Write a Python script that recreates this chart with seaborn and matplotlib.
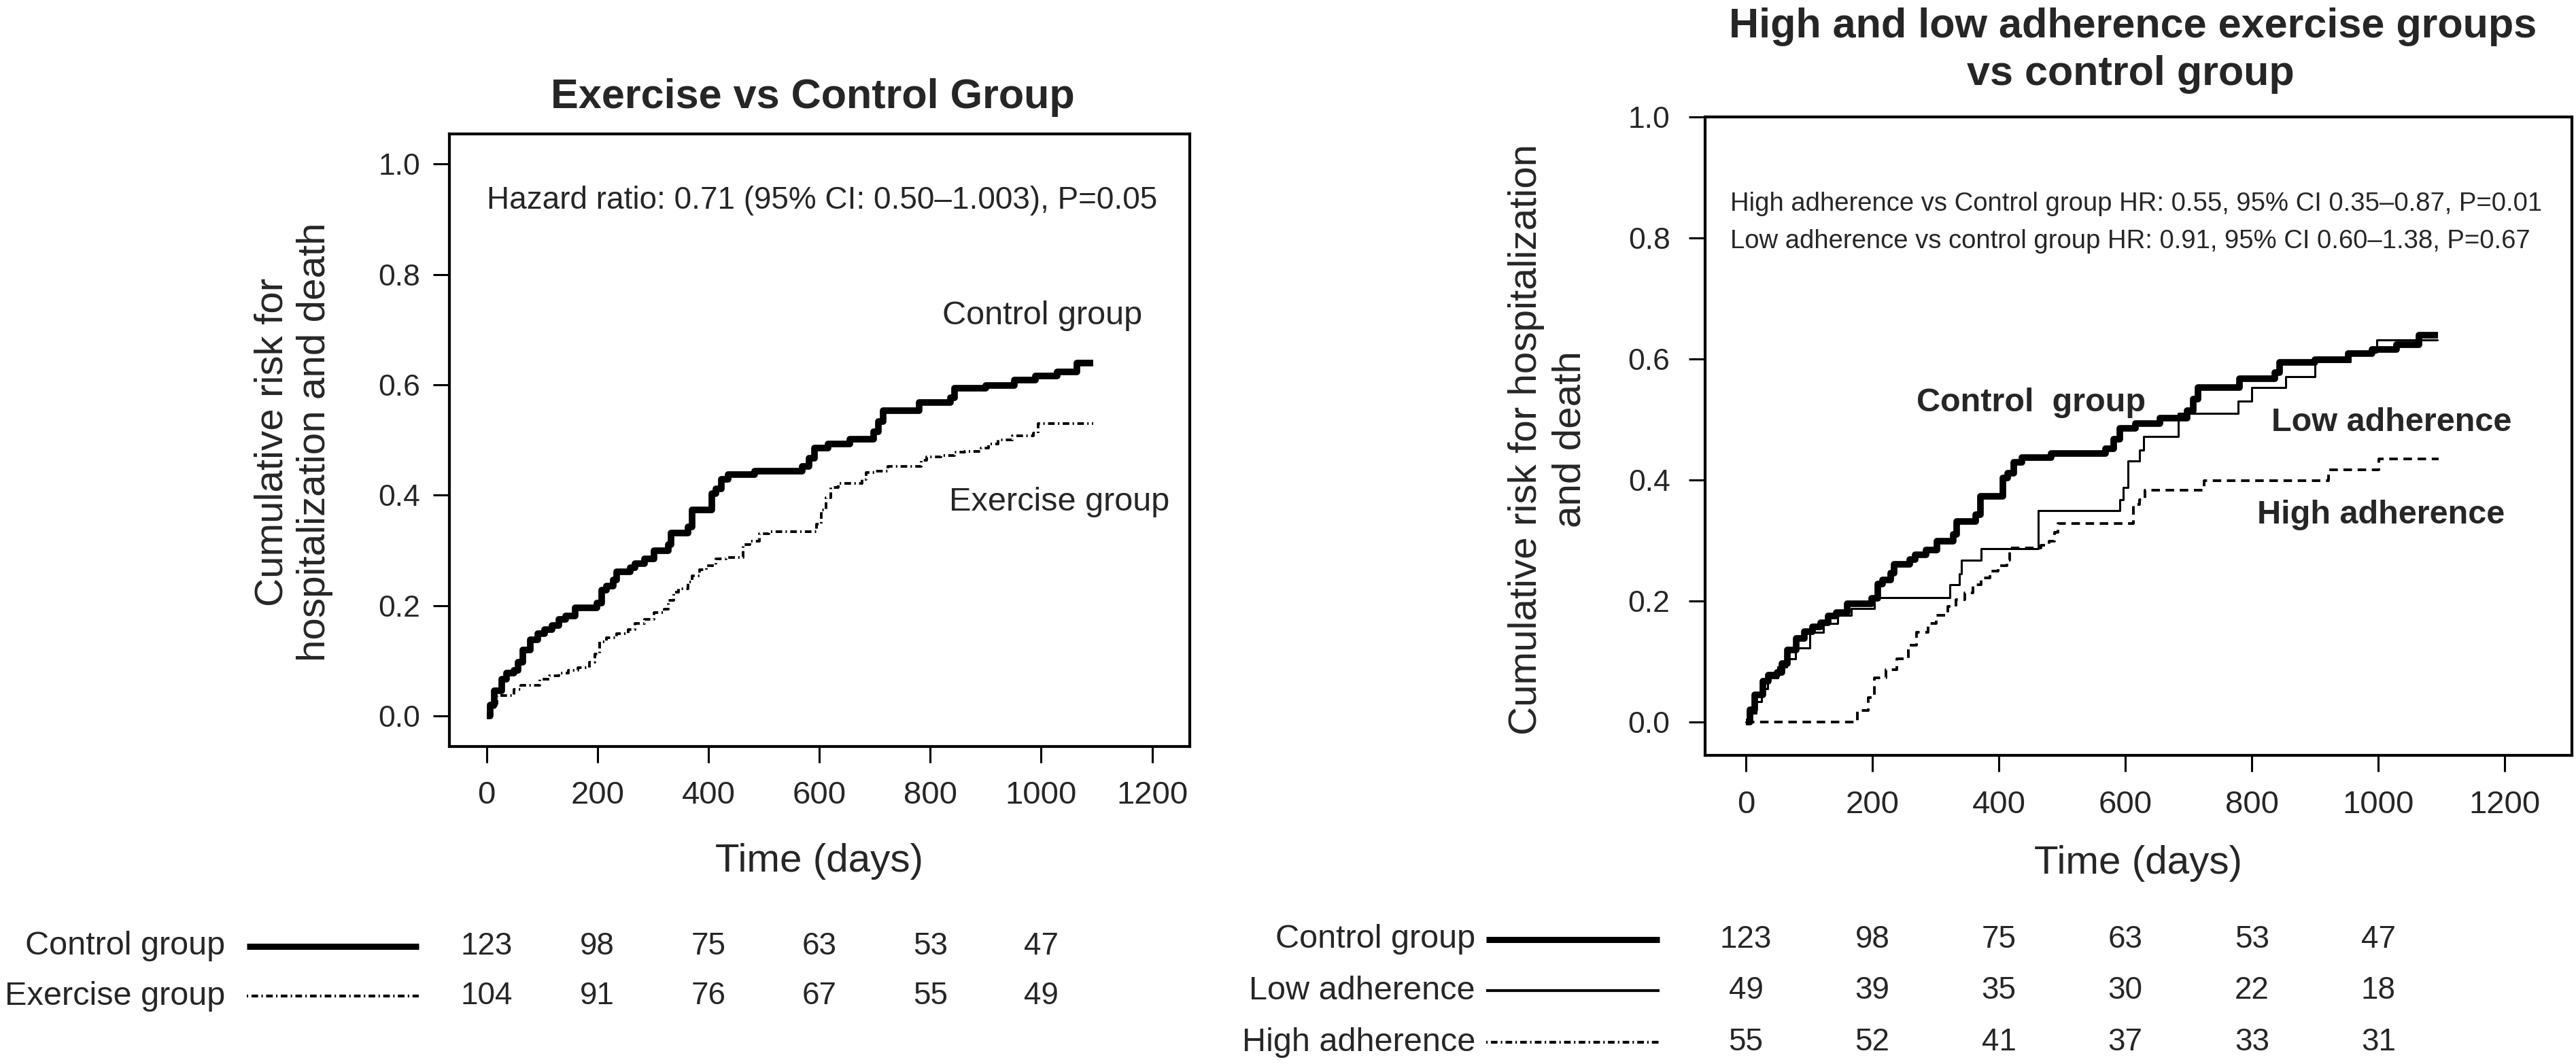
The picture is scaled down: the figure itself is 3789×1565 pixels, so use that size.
import numpy as np
import pandas as pd
import matplotlib
matplotlib.use("Agg")
import matplotlib.pyplot as plt
import seaborn as sns
from matplotlib import transforms
from matplotlib.lines import Line2D
from matplotlib.ticker import FormatStrFormatter

# Datos (curvas de riesgo acumulado, pasos Kaplan-Meier)
days_ctrl = [0, 6, 14, 27, 36, 49, 57, 66, 79, 92, 105, 118, 130, 143, 160, 199, 208, 216, 229, 234,
             259, 268, 285, 302, 328, 333, 363, 371, 406, 414, 423, 436, 483, 569, 582, 591, 616, 655,
             698, 707, 715, 780, 836, 844, 900, 952, 990, 1029, 1064, 1094]
risk_ctrl = [0, 0.02, 0.045, 0.067, 0.078, 0.082, 0.097, 0.119, 0.138, 0.149, 0.157, 0.164, 0.175, 0.181,
             0.196, 0.205, 0.228, 0.235, 0.246, 0.261, 0.269, 0.276, 0.284, 0.299, 0.310, 0.332, 0.343,
             0.373, 0.403, 0.411, 0.429, 0.437, 0.444, 0.452, 0.467, 0.485, 0.493, 0.502, 0.515, 0.534,
             0.553, 0.568, 0.577, 0.594, 0.599, 0.609, 0.616, 0.624, 0.639, 0.639]

days_ex = [0, 6, 14, 19, 49, 62, 96, 113, 130, 148, 165, 186, 195, 204, 216, 234, 255, 268, 285, 302,
           320, 328, 337, 346, 363, 371, 384, 397, 414, 432, 462, 475, 492, 509, 595, 604, 612, 621, 634,
           677, 685, 702, 724, 784, 793, 819, 844, 862, 892, 905, 922, 948, 986, 995, 1094]
risk_ex = [0, 0.01, 0.022, 0.037, 0.048, 0.056, 0.067, 0.073, 0.078, 0.083, 0.088, 0.097, 0.112, 0.134,
           0.142, 0.149, 0.157, 0.168, 0.175, 0.187, 0.194, 0.209, 0.224, 0.231, 0.243, 0.254, 0.265,
           0.272, 0.284, 0.287, 0.310, 0.317, 0.330, 0.334, 0.347, 0.373, 0.396, 0.414, 0.422, 0.429,
           0.441, 0.444, 0.452, 0.463, 0.470, 0.472, 0.478, 0.479, 0.485, 0.493, 0.500, 0.508, 0.512,
           0.530, 0.530]

days_low = [0, 7, 16, 25, 34, 51, 65, 78, 101, 123, 145, 167, 203, 323, 337, 341, 372, 462, 591, 597,
            604, 622, 629, 684, 778, 800, 854, 900, 956, 997, 1093]
risk_low = [0, 0.015, 0.034, 0.055, 0.073, 0.091, 0.105, 0.123, 0.148, 0.163, 0.177, 0.188, 0.206, 0.227,
            0.245, 0.267, 0.286, 0.349, 0.367, 0.388, 0.431, 0.449, 0.472, 0.510, 0.530, 0.553, 0.571,
            0.596, 0.611, 0.632, 0.632]

days_high = [0, 176, 194, 203, 221, 239, 257, 270, 288, 301, 319, 332, 346, 359, 372, 386, 399, 413, 417,
             466, 479, 488, 493, 613, 622, 631, 725, 921, 1001, 1095]
risk_high = [0, 0.019, 0.041, 0.073, 0.087, 0.105, 0.127, 0.148, 0.163, 0.177, 0.191, 0.202, 0.213, 0.227,
             0.238, 0.249, 0.259, 0.267, 0.288, 0.292, 0.299, 0.313, 0.328, 0.360, 0.367, 0.383, 0.399,
             0.417, 0.435, 0.435]

# Numero en riesgo
risk_times = [0, 200, 400, 600, 800, 1000]
n_ctrl = [123, 98, 75, 63, 53, 47]
n_ex = [104, 91, 76, 67, 55, 49]
n_low = [49, 39, 35, 30, 22, 18]
n_high = [55, 52, 41, 37, 33, 31]

W, H = 3789, 1565

sns.set_style("ticks")
plt.rcParams['font.family'] = ['Liberation Sans', 'DejaVu Sans']
plt.rcParams['lines.scale_dashes'] = False

fig = plt.figure(figsize=(W / 100, H / 100), dpi=100)


def fx(px):
    return px / W


def fy(py):
    return 1 - py / H


ax1 = fig.add_axes([fx(661), fy(1098), fx(1750) - fx(661), fy(197) - fy(1098)])
ax2 = fig.add_axes([fx(2508), fy(1111), fx(3783) - fx(2508), fy(172) - fy(1111)])

dashdot = (0, (1.5, 3.5, 7, 3.5))
dashed = (0, (9, 6))


def km(ax, days, risk, **kw):
    df = pd.DataFrame({'day': days, 'risk': risk})
    sns.lineplot(data=df, x='day', y='risk', ax=ax, drawstyle='steps-post',
                 estimator=None, errorbar=None, color='black', **kw)


km(ax1, days_ctrl, risk_ctrl, linewidth=7, solid_capstyle='butt')
km(ax1, days_ex, risk_ex, linewidth=2.8, linestyle=dashdot)

km(ax2, days_ctrl, risk_ctrl, linewidth=7, solid_capstyle='butt')
km(ax2, days_low, risk_low, linewidth=2.2)
km(ax2, days_high, risk_high, linewidth=2.8, linestyle=dashed)

ax1.set_xlim(-67, 1268)
ax1.set_ylim(-0.0555, 1.0548)
ax2.set_xlim(-64.5, 1306)
ax2.set_ylim(-0.055, 1.0)

for ax, ypad, xpad in [(ax1, 14, 19), (ax2, 20, 20)]:
    ax.set_xticks(np.arange(0, 1201, 200))
    ax.set_yticks(np.arange(0, 1.01, 0.2))
    ax.yaxis.set_major_formatter(FormatStrFormatter('%.1f'))
    ax.set_xlabel('')
    ax.set_ylabel('')
    for s in ax.spines.values():
        s.set_visible(True)
        s.set_linewidth(3)
        s.set_color('black')
    ax.tick_params(axis='both', direction='out', length=17, width=2.2, color='black')
    ax.tick_params(axis='y', labelsize=32, pad=ypad)
    ax.tick_params(axis='x', labelsize=34, pad=xpad)
    ax.set_facecolor('white')

# Titulos y etiquetas de ejes
fig.text(fx(1195), fy(159), "Exercise vs Control Group", fontsize=44, weight='bold',
         ha='center', va='baseline')
fig.text(fx(3137), fy(55), "High and low adherence exercise groups", fontsize=44,
         weight='bold', ha='center', va='baseline')
fig.text(fx(3134), fy(125), "vs control group", fontsize=44,
         weight='bold', ha='center', va='baseline')

fig.text(fx(432), fy(650), "Cumulative risk for\nhospitalization and death", rotation=90,
         fontsize=42, ha='center', va='center', linespacing=1.2, multialignment='center')
fig.text(fx(2277), fy(646), "Cumulative risk for hospitalization\nand death", rotation=90,
         fontsize=42, ha='center', va='center', linespacing=1.25, multialignment='center')

fig.text(fx(1205), fy(1267), "Time (days)", fontsize=42, ha='center', va='center')
fig.text(fx(3145), fy(1270), "Time (days)", fontsize=42, ha='center', va='center')

# Anotaciones dentro de los paneles
ax1.text(0, 0.934, "Hazard ratio: 0.71 (95% CI: 0.50\u20131.003), P=0.05", fontsize=33, va='center')
ax1.text(822, 0.725, "Control group", fontsize=35, va='center')
ax1.text(834, 0.388, "Exercise group", fontsize=35, va='center')

ax2.text(-25, 0.856, "High adherence vs Control group HR: 0.55, 95% CI 0.35\u20130.87, P=0.01",
         fontsize=27.5, va='center')
ax2.text(-25, 0.794, "Low adherence vs control group HR: 0.91, 95% CI 0.60\u20131.38, P=0.67",
         fontsize=27.5, va='center')
ax2.text(270, 0.528, "Control  group", fontsize=35, weight='bold', va='center')
ax2.text(831, 0.495, "Low adherence", fontsize=35, weight='bold', va='center')
ax2.text(808, 0.342, "High adherence", fontsize=35, weight='bold', va='center')

# Tablas de numero en riesgo
left_rows = [("Control group", n_ctrl, dict(lw=6.5, ls='-'), 1392),
             ("Exercise group", n_ex, dict(lw=3, ls=dashdot), 1465)]
right_rows = [("Control group", n_ctrl, dict(lw=6.5, ls='-'), 1382),
              ("Low adherence", n_low, dict(lw=3, ls='-'), 1457),
              ("High adherence", n_high, dict(lw=3, ls=dashdot), 1533)]

for ax, rows, lab_x, l0, l1 in [(ax1, left_rows, 331, 363, 616), (ax2, right_rows, 2170, 2186, 2441)]:
    tr = transforms.blended_transform_factory(ax.transData, fig.transFigure)
    for label, counts, style, y in rows:
        fig.text(fx(lab_x), fy(y), label, fontsize=35, ha='right', va='center')
        fig.add_artist(Line2D([fx(l0), fx(l1)], [fy(y), fy(y)], transform=fig.transFigure,
                              color='black', solid_capstyle='butt', **style))
        for t, n in zip(risk_times, counts):
            ax.text(t, fy(y), str(n), transform=tr, fontsize=33, ha='center', va='center',
                    clip_on=False)

fig.savefig("out.png", dpi=100, facecolor='white')
